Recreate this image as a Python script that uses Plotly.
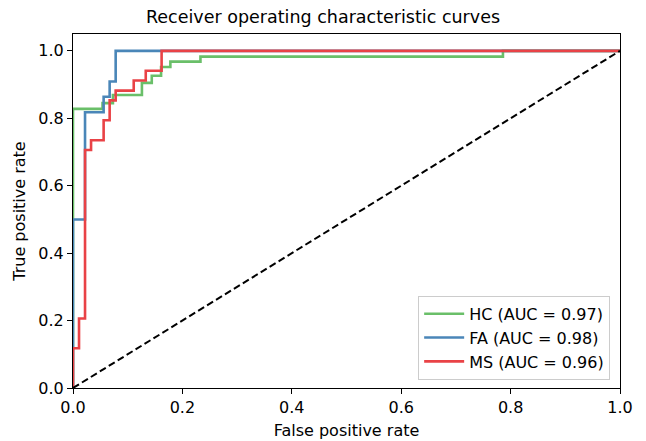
import plotly.graph_objects as go

# ROC step corner data (fpr, tpr)
hc_fpr = [0, 0.054, 0.073, 0.126, 0.144, 0.161, 0.178, 0.233, 0.786, 1.0]
hc_tpr = [0, 0.828, 0.845, 0.869, 0.905, 0.926, 0.952, 0.968, 0.983, 1.0]

fa_fpr = [0, 0.022, 0.056, 0.067, 0.078, 1.0]
fa_tpr = [0, 0.5, 0.818, 0.864, 0.909, 1.0]

ms_fpr = [0, 0.011, 0.022, 0.033, 0.056, 0.067, 0.078, 0.111, 0.133, 0.162, 1.0]
ms_tpr = [0, 0.118, 0.206, 0.706, 0.735, 0.794, 0.853, 0.882, 0.912, 0.941, 1.0]

labels = ["HC (AUC = 0.97)", "FA (AUC = 0.98)", "MS (AUC = 0.96)"]
colors = ["#6abf69", "#4a86b8", "#e94246"]

tick_vals = [0, 0.2, 0.4, 0.6, 0.8, 1.0]

fig = go.Figure()
for fpr, tpr, name, col in zip([hc_fpr, fa_fpr, ms_fpr], [hc_tpr, fa_tpr, ms_tpr], labels, colors):
    fig.add_trace(go.Scatter(x=fpr, y=tpr, mode="lines", name=name,
                             line=dict(color=col, width=2.6, shape="vh")))

fig.add_trace(go.Scatter(x=[0, 1], y=[0, 1], mode="lines", showlegend=False,
                         line=dict(color="black", width=2, dash="7px,3.5px")))

font_family = "DejaVu Sans"
fig.update_layout(
    width=646, height=441,
    margin=dict(l=73, r=26, t=34, b=53, autoexpand=False),
    paper_bgcolor="white", plot_bgcolor="white",
    font=dict(family=font_family, size=16, color="black"),
    title=dict(text="Receiver operating characteristic curves", x=0.5, xanchor="center",
               y=1 - 17 / 441, yanchor="middle", font=dict(size=17.5, family=font_family)),
    legend=dict(x=0.982, y=0.023, xanchor="right", yanchor="bottom",
                bgcolor="rgba(255,255,255,0.85)", bordercolor="#cccccc", borderwidth=1,
                itemwidth=40,
                font=dict(size=16, family=font_family)),
    showlegend=True,
)
fig.update_xaxes(range=[0, 1], tickvals=tick_vals, tickformat=".1f", ticks="outside",
                 ticklen=5, tickwidth=1, tickcolor="black", showline=True, linecolor="black",
                 linewidth=1, mirror=True, showgrid=False, zeroline=False, automargin=False,
                 tickfont=dict(size=16, family=font_family),
                 title=dict(text="False positive rate", standoff=8, font=dict(size=16, family=font_family)),
                 layer="below traces")
fig.update_yaxes(range=[0, 1.05], tickvals=tick_vals, tickformat=".1f", ticks="outside",
                 ticklen=5, tickwidth=1, tickcolor="black", showline=True, linecolor="black",
                 linewidth=1, mirror=True, showgrid=False, zeroline=False, automargin=False,
                 tickfont=dict(size=16, family=font_family),
                 title=dict(text="True positive rate", standoff=8, font=dict(size=16, family=font_family)),
                 layer="below traces")

fig.write_html("out.html", config={"displayModeBar": False},
               post_script="document.body.style.margin='0px';")
